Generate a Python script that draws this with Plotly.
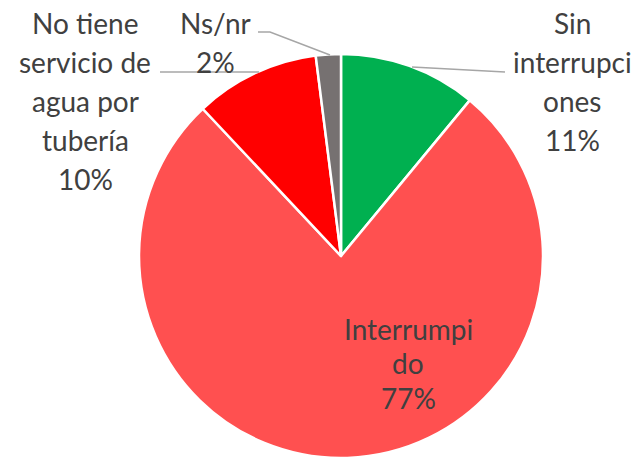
import plotly.graph_objects as go

categories = ["Sin interrupciones", "Interrumpido", "No tiene servicio de agua por tubería", "Ns/nr"]
values = [11, 77, 10, 2]
label_lines = [["Sin", "interrupci", "ones"], ["Interrumpi", "do"], ["No tiene", "servicio de", "agua por", "tubería"], ["Ns/nr"]]
colors = ["#00B050", "#FF5050", "#FF0000", "#767171"]

W, H = 639, 459
OFF = 8  # page body margin offset in the browser
def px(x):
    return (x - OFF) / W
def py(y):
    return 1 - (y - OFF) / H

fig = go.Figure(go.Pie(
    labels=categories, values=values, sort=False, direction="clockwise", rotation=0,
    marker=dict(colors=colors, line=dict(color="white", width=2.5)),
    textinfo="none", hoverinfo="label+percent", showlegend=False,
    domain=dict(x=[px(139), px(543)], y=[py(458), py(54)]),
))

total = sum(values)
# label block centre x and first baseline y (pixels), line spacing
label_pos = [(572, 33), (408, 338), (85, 33), (215, 32)]
line_gap = [38.8, 34.5, 38.8, 40]
BASE_OFF = 9.5
font = dict(family="Lato, 'Open Sans', sans-serif", size=28, color="#404040")
for i, (cx, y0) in enumerate(label_pos):
    lines = label_lines[i] + [f"{round(values[i] / total * 100)}%"]
    for k, t in enumerate(lines):
        fig.add_annotation(x=px(cx), y=py(y0 + k * line_gap[i] - BASE_OFF), xref="paper", yref="paper",
                           text=t, showarrow=False, font=font, xanchor="center", yanchor="middle")

lc = dict(color="#A6A6A6", width=1.5)
fig.add_shape(type="line", xref="paper", yref="paper", x0=px(412), y0=py(67), x1=px(505), y1=py(72), line=lc)
fig.add_shape(type="line", xref="paper", yref="paper", x0=px(160), y0=py(72), x1=px(259), y1=py(72), line=lc)
fig.add_shape(type="path", xref="paper", yref="paper",
              path=f"M {px(258)} {py(32)} L {px(270)} {py(32)} L {px(330)} {py(55)}", line=lc)

fig.update_layout(width=W, height=H, margin=dict(l=0, r=0, t=0, b=0),
                  paper_bgcolor="white", plot_bgcolor="white")
fig.write_html("out.html")
